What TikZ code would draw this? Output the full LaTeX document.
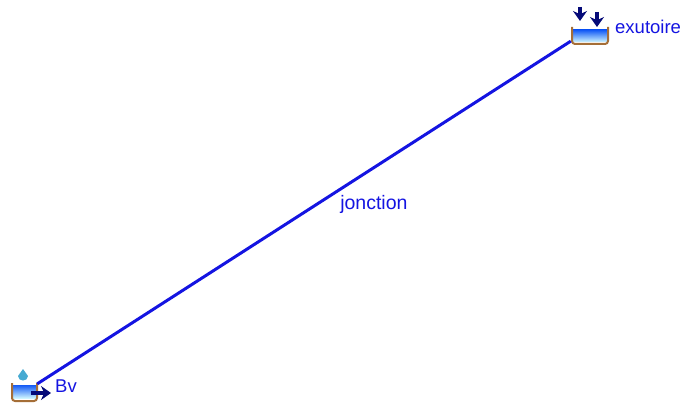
\documentclass[tikz,border=0pt]{standalone}
\usepackage{xcolor}
\usepackage{fontspec}
\setmainfont{Liberation Sans}
\usetikzlibrary{arrows.meta, positioning}
\definecolor{myblue}{RGB}{20,20,225}
\definecolor{mynavy}{RGB}{5,10,120}
\definecolor{mybrown}{RGB}{165,110,55}
\definecolor{mywater}{RGB}{20,90,245}
\definecolor{mypale}{RGB}{205,245,255}
\definecolor{mydrop}{RGB}{70,170,210}
\tikzset{
  label/.style={text=myblue, inner sep=0pt, font=\fontsize{18.5}{20}\selectfont},
  anchorpt/.style={inner sep=0pt, minimum size=0pt},
  link/.style={draw=myblue, line width=3pt},
  tank/.style={draw=mybrown, line width=2pt, rounded corners=3pt},
  water/.style={top color=mywater, bottom color=mypale, draw=none},
  flow/.style={-{Stealth[length=10pt, width=14pt]}, draw=mynavy, line width=3.5pt}
}
\begin{document}
\begin{tikzpicture}[x=1pt, y=-1pt]
  \useasboundingbox (0,0) rectangle (682,403);

  % Basin on the lower left
  \node[anchorpt] (bv) at (37,384) {};
  \node[label, anchor=west] (bvlabel) at (55,386) {Bv};
  \fill[water] (13,385) rectangle (36,398);
  \draw[tank] (12,383) -- (12,401) -- (37,401) -- (37,383);
  \fill[mydrop] (23,369) -- (18,376) .. controls (18,382) and (28,382) .. (28,376) -- cycle;
  \draw[flow] (31,393) -- (51,393);

  % Outlet on the upper right
  \node[anchorpt] (exu) at (571,41) {};
  \node[label, anchor=west] (exulabel) at (615,27) {exutoire};
  \fill[water] (573,30) rectangle (607,42);
  \draw[tank] (572,27) -- (572,44) -- (608,44) -- (608,27);
  \draw[flow] (580,7) -- (580,21);
  \draw[flow] (597,12) -- (597,27);

  % Link between the two
  \draw[link] (bv) -- (exu) node[label, pos=0.631, yshift=-37pt, font=\fontsize{19.5}{20}\selectfont] (jonction) {jonction};
\end{tikzpicture}
\end{document}
